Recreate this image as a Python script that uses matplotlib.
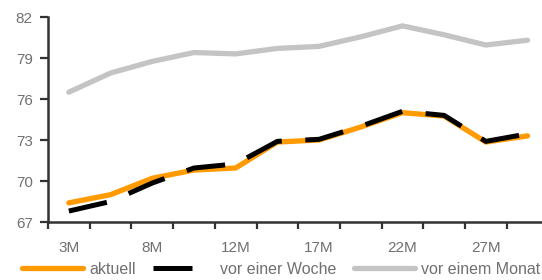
import matplotlib
matplotlib.use("Agg")
import matplotlib.pyplot as plt
from matplotlib.ticker import FixedLocator

plt.rcParams['font.family'] = ['Liberation Sans', 'DejaVu Sans']

categories = ["3M", "5M", "8M", "10M", "12M", "15M", "17M", "20M", "22M", "25M", "27M", "30M"]
aktuell = [68.4, 69.0, 70.2, 70.8, 70.95, 72.85, 73.0, 73.95, 75.0, 74.75, 72.85, 73.3]
vor_einer_woche = [67.8, 68.5, 69.85, 70.95, 71.25, 72.9, 73.05, 74.0, 75.1, 74.8, 72.9, 73.45]
vor_einem_monat = [76.5, 77.9, 78.75, 79.4, 79.3, 79.7, 79.85, 80.55, 81.35, 80.7, 79.95, 80.3]
y_ticks = [67, 70, 73, 76, 79, 82]

W, H = 542, 280
fig = plt.figure(figsize=(W / 100, H / 100), dpi=100)
ax = fig.add_axes([48 / W, 58 / H, (W - 48) / W, 205 / H])

x = list(range(len(categories)))
l3, = ax.plot(x, vor_einem_monat, color="#c4c4c4", lw=3.8, solid_joinstyle="round",
              solid_capstyle="round", label="vor einem Monat")
l1, = ax.plot(x, aktuell, color="#ff9a00", lw=3.8, solid_joinstyle="round",
              solid_capstyle="round", label="aktuell")
l2, = ax.plot(x, vor_einer_woche, color="black", lw=3.6, dashes=(7.8, 4.7),
              dash_capstyle="butt", label="vor einer Woche")

ax.set_ylim(67, 82)
ax.set_xlim(-0.5, -0.5 + (W - 48) / 41.7)
ax.set_yticks(y_ticks)
ax.set_yticklabels([str(v) for v in y_ticks])

# boundary ticks (marks) and centered labels
ax.xaxis.set_major_locator(FixedLocator([i - 0.5 for i in range(len(categories) + 1)]))
ax.set_xticklabels([])
ax.xaxis.set_minor_locator(FixedLocator(x[::2]))
ax.set_xticklabels([categories[i] for i in x[::2]], minor=True)
ax.tick_params(axis="x", which="minor", length=0, pad=13.5, labelsize=11, colors="#707070")
ax.tick_params(axis="x", which="major", length=5, width=1.6, color="#333333", direction="out")
ax.tick_params(axis="y", length=6, width=1.6, color="#333333", pad=5, labelsize=11,
               labelcolor="#707070", direction="out")

for s in ["top", "right"]:
    ax.spines[s].set_visible(False)
for s in ["left", "bottom"]:
    ax.spines[s].set_linewidth(1.8)
    ax.spines[s].set_color("#333333")

fig.legend(handles=[l1, l2, l3], loc="center left", bbox_to_anchor=(22 / W, 1 - 269 / H),
           ncol=3, frameon=False, fontsize=11.5, handlelength=3.8, handletextpad=0.4,
           columnspacing=1.1, borderpad=0, borderaxespad=0, labelcolor="#707070")

fig.savefig("out.png", dpi=100)
